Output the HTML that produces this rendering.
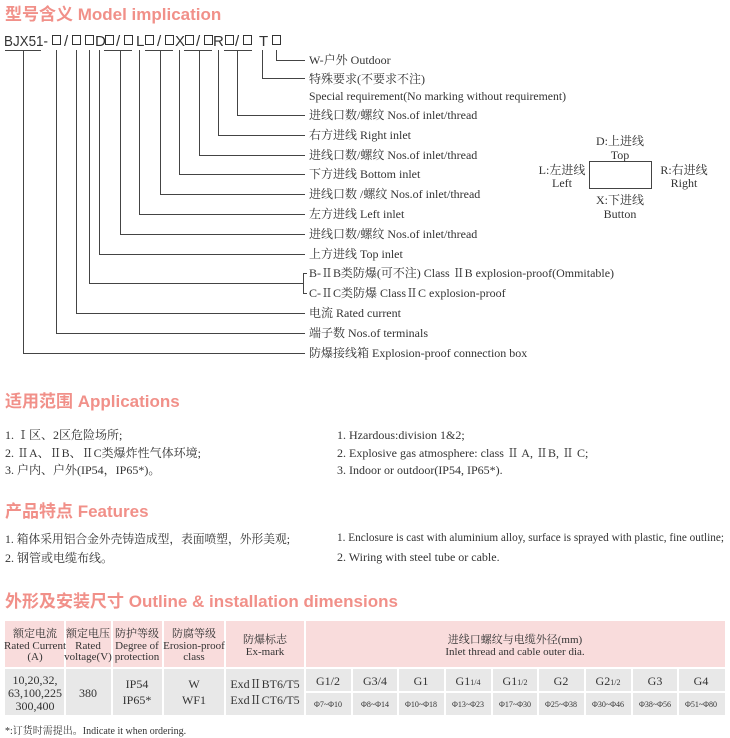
<!DOCTYPE html>
<html><head><meta charset="utf-8"><style>
body{margin:0;background:#fff;}
svg{display:block}
.t{font-family:"Liberation Sans","Noto Sans CJK SC",sans-serif;font-weight:bold;font-size:17px;fill:#f19089}
.s{font-family:"Liberation Serif","Noto Serif CJK SC","Noto Sans CJK SC",serif;font-size:12px;fill:#333}
.m{font-family:"Liberation Sans","Noto Sans CJK SC",sans-serif;font-size:15px;fill:#333}
.c{text-anchor:middle}
</style></head><body>
<svg width="730" height="738" viewBox="0 0 730 738" xmlns="http://www.w3.org/2000/svg">
<text class="t" x="5" y="20">型号含义 Model implication</text>
<g class="m">
<text x="4" y="46" textLength="44" lengthAdjust="spacingAndGlyphs">BJX51-</text>
<text x="64" y="46">/</text>
<text x="95" y="46">D</text>
<text x="116" y="46">/</text>
<text x="136" y="46">L</text>
<text x="157" y="46">/</text>
<text x="175" y="46">X</text>
<text x="196" y="46">/</text>
<text x="213" y="46">R</text>
<text x="235" y="46">/</text>
<text x="259" y="46">T</text>
</g>
<g stroke="#333" stroke-width="1" fill="none">
<rect x="52.5" y="35.5" width="8" height="9"/>
<rect x="72.5" y="35.5" width="8" height="9"/>
<rect x="85.5" y="35.5" width="8" height="9"/>
<rect x="105.5" y="35.5" width="8" height="9"/>
<rect x="124.5" y="35.5" width="8" height="9"/>
<rect x="145.5" y="35.5" width="8" height="9"/>
<rect x="165.5" y="35.5" width="8" height="9"/>
<rect x="185.5" y="35.5" width="8" height="9"/>
<rect x="204.5" y="35.5" width="8" height="9"/>
<rect x="225.5" y="35.5" width="8" height="9"/>
<rect x="243.5" y="35.5" width="8" height="9"/>
<rect x="272.5" y="35.5" width="8" height="9"/>
</g>
<g stroke="#444" stroke-width="1" fill="none">
<path d="M5 50.5H41 M104 50.5H132 M145 50.5H173 M184 50.5H212 M224 50.5H252"/>
<path d="M23.5 50V353.5H305"/>
<path d="M56.5 50V333.5H305"/>
<path d="M76.5 50V313.5H305"/>
<path d="M89.5 50V283.5H303 M307 273.5H303.5V293.5H307"/>
<path d="M99.5 50V254.5H305"/>
<path d="M120.5 50V234.5H305"/>
<path d="M139.5 50V214.5H305"/>
<path d="M160.5 50V194.5H305"/>
<path d="M179.5 50V174.5H305"/>
<path d="M199.5 50V155.5H305"/>
<path d="M218.5 50V135.5H305"/>
<path d="M237.5 50V115.5H305"/>
<path d="M262.5 50V78.5H305"/>
<path d="M276.5 50V60.5H305"/>
<rect x="589.5" y="161.5" width="62" height="27"/>
</g>
<g class="s">
<text x="309" y="64">W-户外 Outdoor</text>
<text x="309" y="83">特殊要求(不要求不注)</text>
<text x="309" y="100" textLength="257" lengthAdjust="spacingAndGlyphs">Special requirement(No marking without requirement)</text>
<text x="309" y="119">进线口数/螺纹 Nos.of inlet/thread</text>
<text x="309" y="139">右方进线  Right inlet</text>
<text x="309" y="159">进线口数/螺纹 Nos.of inlet/thread</text>
<text x="309" y="178">下方进线    Bottom inlet</text>
<text x="309" y="198">进线口数 /螺纹 Nos.of inlet/thread</text>
<text x="309" y="218">左方进线 Left inlet</text>
<text x="309" y="238">进线口数/螺纹 Nos.of inlet/thread</text>
<text x="309" y="258">上方进线  Top inlet</text>
<text x="309" y="277" textLength="305" lengthAdjust="spacingAndGlyphs">B-ⅡB类防爆(可不注)  Class ⅡB explosion-proof(Ommitable)</text>
<text x="309" y="297">C-ⅡC类防爆 ClassⅡC explosion-proof</text>
<text x="309" y="317">电流 Rated current</text>
<text x="309" y="337">端子数  Nos.of terminals</text>
<text x="309" y="357">防爆接线箱  Explosion-proof connection box</text>
<text class="c" x="620" y="145">D:上进线</text>
<text class="c" x="620" y="159">Top</text>
<text class="c" x="562" y="174">L:左进线</text>
<text class="c" x="562" y="187">Left</text>
<text class="c" x="684" y="174">R:右进线</text>
<text class="c" x="684" y="187">Right</text>
<text class="c" x="620" y="204">X:下进线</text>
<text class="c" x="620" y="218">Button</text>
</g>
<text class="t" x="5" y="407">适用范围 Applications</text>
<g class="s">
<text x="5" y="439">1. Ⅰ区、2区危险场所;</text>
<text x="5" y="457">2. ⅡA、ⅡB、ⅡC类爆炸性气体环境;</text>
<text x="5" y="474">3. 户内、户外(IP54，IP65*)。</text>
<text x="337" y="439">1. Hzardous:division 1&amp;2;</text>
<text x="337" y="457">2. Explosive gas  atmosphere: class Ⅱ A, ⅡB, Ⅱ C;</text>
<text x="337" y="474">3. Indoor or outdoor(IP54, IP65*).</text>
</g>
<text class="t" x="5" y="517">产品特点 Features</text>
<g class="s">
<text x="5" y="543" textLength="285" lengthAdjust="spacingAndGlyphs">1. 箱体采用铝合金外壳铸造成型，表面喷塑，外形美观;</text>
<text x="5" y="562">2. 钢管或电缆布线。</text>
<text x="337" y="541" textLength="387" lengthAdjust="spacingAndGlyphs">1. Enclosure is cast with aluminium alloy, surface is sprayed with plastic, fine outline;</text>
<text x="337" y="561">2. Wiring with  steel  tube or cable.</text>
</g>
<text class="t" x="5" y="607">外形及安装尺寸 Outline &amp; installation dimensions</text>
<g>
<rect x="5" y="621" width="720" height="47" fill="#f9dcdc"/>
<rect x="5" y="668" width="720" height="47" fill="#e8e8e8"/>
<g stroke="#fff" stroke-width="2">
<path d="M65 621V715 M112 621V715 M163 621V715 M225 621V715 M305 621V715"/>
<path d="M5 668H725 M305 692H725"/>
<path d="M352 668V715 M398 668V715 M445 668V715 M492 668V715 M538 668V715 M585 668V715 M632 668V715 M678 668V715"/>
</g>
</g>
<g class="s c" style="font-size:11px">
<text x="35" y="637">额定电流</text><text x="35" y="649">Rated Current</text><text x="35" y="660">(A)</text>
<text x="88" y="637">额定电压</text><text x="88" y="649">Rated</text><text x="88" y="660">voltage(V)</text>
<text x="137" y="637">防护等级</text><text x="137" y="649">Degree of</text><text x="137" y="660">protection</text>
<text x="194" y="637">防腐等级</text><text x="194" y="649">Erosion-proof</text><text x="194" y="660">class</text>
<text x="265" y="643">防爆标志</text><text x="265" y="655">Ex-mark</text>
<text x="515" y="643">进线口螺纹与电缆外径(mm)</text><text x="515" y="655">Inlet thread and cable outer dia.</text>
</g>
<g class="s c">
<text x="35" y="684">10,20,32,</text><text x="35" y="697">63,100,225</text><text x="35" y="710">300,400</text>
<text x="88" y="697">380</text>
<text x="137" y="688">IP54</text><text x="137" y="704">IP65*</text>
<text x="194" y="688">W</text><text x="194" y="704">WF1</text>
<text x="265" y="688">ExdⅡBT6/T5</text><text x="265" y="704">ExdⅡCT6/T5</text>
<text x="328" y="685">G1/2</text><text x="375" y="685">G3/4</text><text x="421" y="685">G1</text>
<text x="468" y="685">G1<tspan style="font-size:8px">1/4</tspan></text>
<text x="515" y="685">G1<tspan style="font-size:8px">1/2</tspan></text>
<text x="561" y="685">G2</text>
<text x="608" y="685">G2<tspan style="font-size:8px">1/2</tspan></text>
<text x="655" y="685">G3</text><text x="701" y="685">G4</text>
</g>
<g class="s c" style="font-size:8px">
<text x="328" y="707">Φ7~Φ10</text><text x="375" y="707">Φ8~Φ14</text><text x="421" y="707">Φ10~Φ18</text>
<text x="468" y="707">Φ13~Φ23</text><text x="515" y="707">Φ17~Φ30</text><text x="561" y="707">Φ25~Φ38</text>
<text x="608" y="707">Φ30~Φ46</text><text x="655" y="707">Φ38~Φ56</text><text x="701" y="707">Φ51~Φ80</text>
</g>
<text class="s" x="5" y="734" style="font-size:10px">*:订货时需提出。Indicate it when ordering.</text>
</svg>
</body></html>
